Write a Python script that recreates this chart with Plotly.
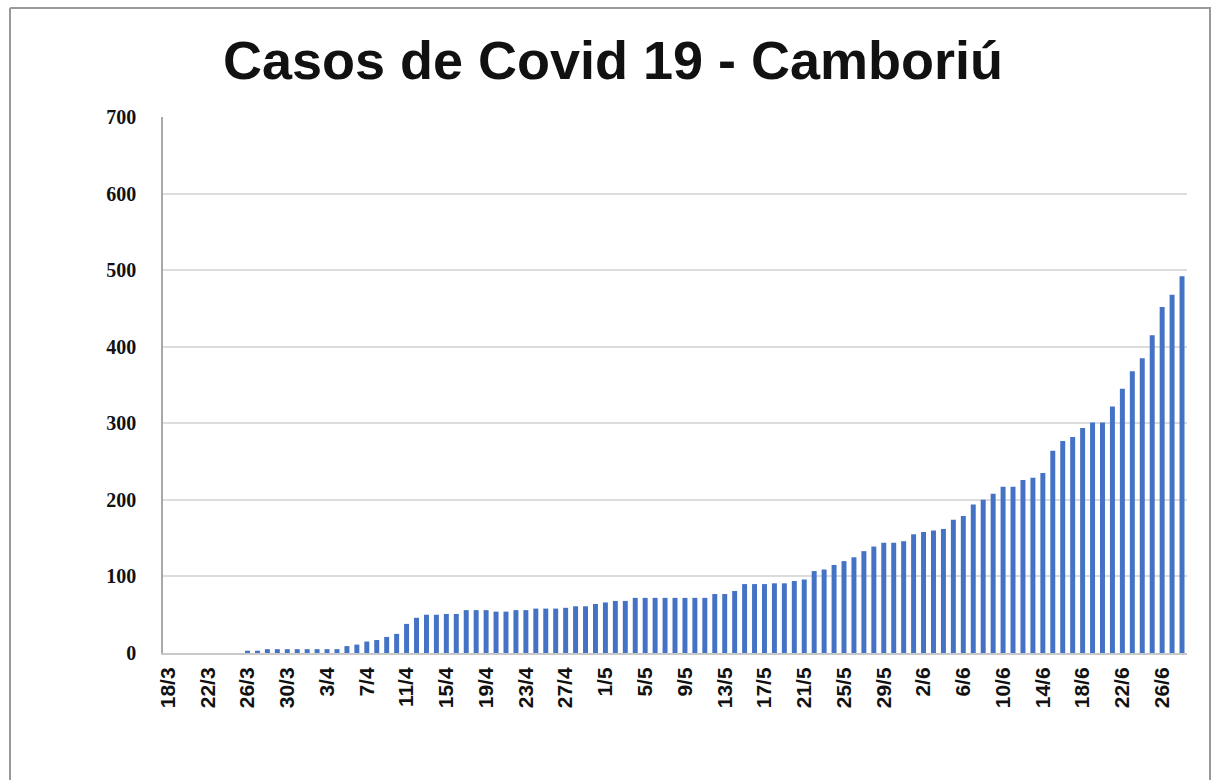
import plotly.graph_objects as go

dates = [
    "18/3", "19/3", "20/3", "21/3", "22/3", "23/3", "24/3", "25/3", "26/3", "27/3",
    "28/3", "29/3", "30/3", "31/3", "1/4", "2/4", "3/4", "4/4", "5/4", "6/4",
    "7/4", "8/4", "9/4", "10/4", "11/4", "12/4", "13/4", "14/4", "15/4", "16/4",
    "17/4", "18/4", "19/4", "20/4", "21/4", "22/4", "23/4", "24/4", "25/4", "26/4",
    "27/4", "28/4", "29/4", "30/4", "1/5", "2/5", "3/5", "4/5", "5/5", "6/5",
    "7/5", "8/5", "9/5", "10/5", "11/5", "12/5", "13/5", "14/5", "15/5", "16/5",
    "17/5", "18/5", "19/5", "20/5", "21/5", "22/5", "23/5", "24/5", "25/5", "26/5",
    "27/5", "28/5", "29/5", "30/5", "31/5", "1/6", "2/6", "3/6", "4/6", "5/6",
    "6/6", "7/6", "8/6", "9/6", "10/6", "11/6", "12/6", "13/6", "14/6", "15/6",
    "16/6", "17/6", "18/6", "19/6", "20/6", "21/6", "22/6", "23/6", "24/6", "25/6",
    "26/6", "27/6", "28/6",
]

casos = [
    0, 0, 0, 0, 0, 0, 0, 0, 3, 3,
    5, 5, 5, 5, 5, 5, 5, 5, 9, 11,
    15, 17, 21, 25, 38, 46, 50, 50, 51, 51,
    56, 56, 56, 54, 54, 56, 56, 58, 58, 58,
    59, 61, 61, 64, 66, 68, 68, 72, 72, 72,
    72, 72, 72, 72, 72, 77, 77, 81, 90, 90,
    90, 91, 91, 94, 96, 107, 109, 115, 120, 125,
    133, 139, 144, 144, 146, 155, 158, 160, 162, 174,
    179, 194, 200, 208, 217, 217, 226, 229, 235, 264,
    277, 282, 294, 301, 301, 322, 345, 368, 385, 415,
    452, 468, 492,
]

tick_labels = dates[::4]

title_text = "Casos de Covid 19 - Camboriú"

W, H = 1213, 780
L, R, T, B = 163, 26, 117, 127
pw, ph = W - L - R, H - T - B

def px_x(p):
    return (p - L) / pw

def px_y(p):
    return (H - B - p) / ph

fig = go.Figure()
fig.add_trace(go.Bar(
    x=dates, y=casos,
    marker=dict(color="#4472C4", line=dict(width=0)),
    width=0.5,
))

fig.update_layout(
    width=W, height=H,
    margin=dict(l=L, r=R, t=T, b=B, autoexpand=False),
    paper_bgcolor="white",
    plot_bgcolor="white",
    showlegend=False,
    bargap=0.5,
    title=dict(
        text=title_text,
        font=dict(family="Liberation Sans, Arial, sans-serif", size=54, color="#111111", weight="bold"),
        x=613 / W, xanchor="center", xref="container",
        y=1 - 60 / H, yanchor="middle", yref="container",
    ),
    xaxis=dict(
        type="category",
        categoryorder="array", categoryarray=dates,
        tickmode="array", tickvals=tick_labels, ticktext=tick_labels,
        tickangle=-90,
        tickfont=dict(family="Liberation Sans, Arial, sans-serif", size=21, color="#111111", weight="bold"),
        showgrid=False,
        showline=True, linecolor="#c8c8c8", linewidth=2,
        ticks="", ticklabelstandoff=4,
        range=[-0.5, len(dates) - 0.5],
    ),
    yaxis=dict(
        range=[0, 700], dtick=100, tick0=0,
        tickfont=dict(family="Liberation Serif, Times New Roman, serif", size=20, color="#111111", weight="bold"),
        showgrid=True, gridcolor="#dcdcdc", gridwidth=1.5,
        showline=True, linecolor="#a8a8a8", linewidth=1.5,
        zeroline=False,
        ticks="", ticklabelstandoff=21,
    ),
    shapes=[
        dict(type="line", xref="paper", yref="paper",
             x0=px_x(10), x1=px_x(1211), y0=px_y(8), y1=px_y(8),
             line=dict(color="#9a9a9a", width=2)),
        dict(type="line", xref="paper", yref="paper",
             x0=px_x(10), x1=px_x(10), y0=px_y(8), y1=px_y(782),
             line=dict(color="#9a9a9a", width=2)),
        dict(type="line", xref="paper", yref="paper",
             x0=px_x(1210), x1=px_x(1210), y0=px_y(8), y1=px_y(782),
             line=dict(color="#9a9a9a", width=2)),
    ],
)

fig.write_html(
    "out.html",
    config={"displayModeBar": False},
    post_script="document.body.style.margin='0';document.body.style.overflow='hidden';",
)
